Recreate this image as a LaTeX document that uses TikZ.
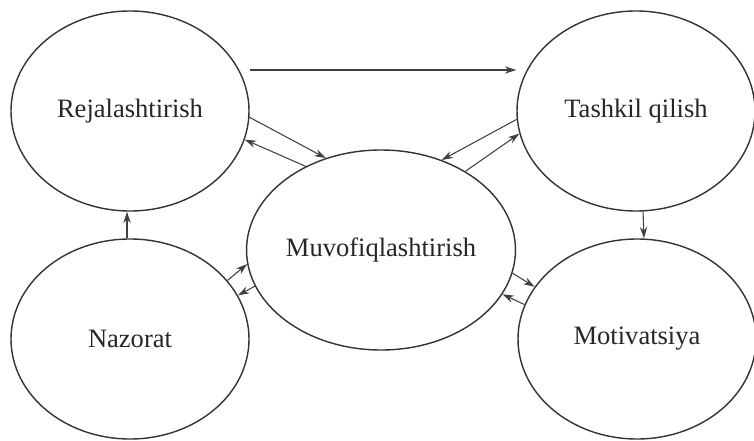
\documentclass[tikz,border=0pt]{standalone}
\usepackage{fontspec}
\setmainfont{Liberation Serif}
\usetikzlibrary{arrows.meta}
\usetikzlibrary{shapes.geometric}

\begin{document}
\begin{tikzpicture}[
  bubble/.style={ellipse,draw=black!80,line width=0.8pt,minimum width=4.76cm,minimum height=4cm,inner sep=0pt,text=black!85,font=\fontsize{15.1}{18}\selectfont},
  link/.style={-{Stealth[length=6.5pt,width=4.2pt]},draw=black!75,line width=0.6pt}]
\useasboundingbox (0,0) rectangle (15.08,8.8);

\node [bubble] (rej) at (2.60,6.58) {Rejalashtirish};
\node [bubble] (tash) at (12.72,6.58) {Tashkil qilish};
\node [bubble] (muv) at (7.62,3.80) {Muvofiqlashtirish};
\node [bubble] (naz) at (2.60,2.02) {Nazorat};
\node [bubble] (mot) at (12.74,2.02) {Motivatsiya};

\draw [link] ([yshift=0.82cm]rej.east) -- ([yshift=0.82cm]tash.west);
\draw [link] ([xshift=-0.06cm]naz.north) -- ([xshift=-0.06cm]rej.south);
\draw [link] ([xshift=0.14cm]tash.south) -- ([xshift=0.14cm]mot.north);

% two-way links with the centre
\foreach \s/\p/\t/\q in {rej/-3/muv/121, muv/132/rej/-14,
                         tash/184/muv/56, muv/43.5/tash/191.6,
                         naz/31.5/muv/186, muv/196/naz/22,
                         muv/-10.6/mot/153, mot/163/muv/-20}
  \draw [link] (\s.\p) -- (\t.\q);
\end{tikzpicture}
\end{document}
